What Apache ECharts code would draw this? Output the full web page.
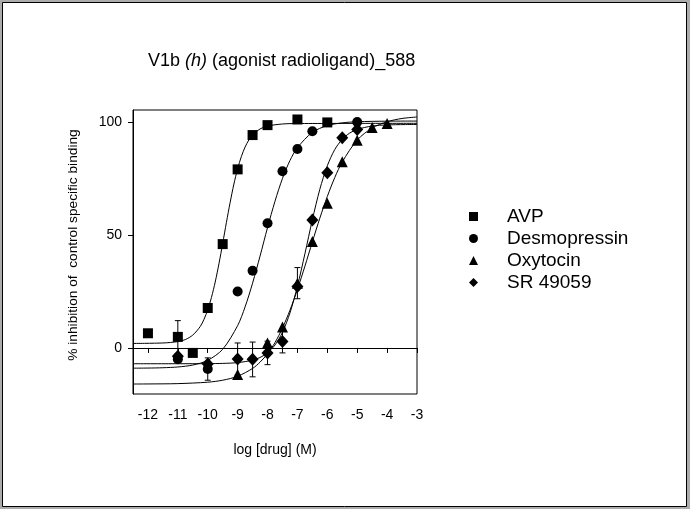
<!DOCTYPE html>
<html>
<head>
<meta charset="utf-8">
<script src="https://cdn.jsdelivr.net/npm/echarts@6/dist/echarts.min.js"></script>
<style>
  html, body { margin: 0; padding: 0; background: #fff; }
  #chart { width: 690px; height: 509px; }
</style>
</head>
<body>
<div id="chart"></div>
<script>
// tick labels
var xTicks = [-12, -11, -10, -9, -8, -7, -6, -5, -4, -3];
var yTicks = [0, 50, 100];

// measured points [log conc, % inhibition]
var avpPts = [[-12, 6.5], [-11, 4.9], [-10.5, -2.2], [-10, 17.7], [-9.5, 46], [-9, 79.1], [-8.5, 94.3], [-8, 98.7], [-7, 101.2], [-6, 99.9]];
var desmoPts = [[-11, -5], [-10, -9.3], [-9, 25], [-8.5, 34.2], [-8, 55.2], [-7.5, 78.3], [-7, 88.1], [-6.5, 96], [-5, 100.1]];
var oxyPts = [[-9, -11.8], [-8, 2.2], [-7.5, 9.3], [-7, 28.7], [-6.5, 47.1], [-6, 64.1], [-5.5, 82.5], [-5, 92], [-4.5, 97.7], [-4, 99.4]];
var srPts = [[-11, -3.7], [-10, -7.1], [-9, -4.9], [-8.5, -5], [-8, -2.2], [-7.5, 2.9], [-7, 27.2], [-6.5, 56.7], [-6, 77.6], [-5.5, 93.1], [-5, 96.8]];

// error bars [x, low, high]
var errBars = [[-11, -2.5, 12.1], [-10, -14.3, -4.4], [-9, -12, 2.2], [-8.5, -12.8, 2.6], [-8, -7.4, 3], [-7.5, -2.2, 8], [-7, 21.8, 35.6]];

// fitted curves
var avpFit = [[-12.5, 2.0], [-11.5, 2.2], [-11, 2.8], [-10.75, 3.7], [-10.5, 5.7], [-10.25, 9.5], [-10.125, 12.7], [-10, 16.9], [-9.875, 22.4], [-9.75, 29.2], [-9.625, 37.3], [-9.5, 46.3], [-9.375, 55.6], [-9.25, 64.5], [-9.125, 72.6], [-9, 79.4], [-8.875, 84.8], [-8.75, 89.0], [-8.625, 92.1], [-8.5, 94.3], [-8.25, 97.0], [-8, 98.3], [-7.5, 99.2], [-7, 99.4], [-3, 99.5]];
var desmoFit = [[-12.5, -8.96], [-12, -8.91], [-11.5, -8.77], [-11, -8.43], [-10.5, -7.58], [-10, -5.49], [-9.5, -0.59], [-9, 9.9], [-8.75, 18.2], [-8.5, 28.7], [-8.25, 40.7], [-8, 53.3], [-7.75, 65.0], [-7.5, 75.1], [-7.25, 83.0], [-7, 88.7], [-6.5, 95.5], [-6, 98.5], [-5.5, 99.7], [-5, 100.2], [-4, 100.45], [-3, 100.5]];
var oxyFit = [[-12.5, -15.98], [-12, -15.95], [-11, -15.8], [-10, -15.17], [-9.5, -14.3], [-9, -12.55], [-8.5, -9.08], [-8.25, -6.3], [-8, -2.55], [-7.75, 2.4], [-7.5, 8.8], [-7.25, 16.7], [-7, 25.9], [-6.75, 36.2], [-6.5, 47.0], [-6.25, 57.5], [-6, 67.1], [-5.75, 75.5], [-5.5, 82.4], [-5, 92.1], [-4.5, 97.4], [-4, 100.2], [-3.5, 101.65], [-3, 102.3]];
var srFit = [[-12.5, -7], [-11, -6.99], [-10, -6.95], [-9.5, -6.84], [-9, -6.5], [-8.5, -5.42], [-8.25, -4.22], [-8, -2.16], [-7.75, 1.31], [-7.5, 6.93], [-7.25, 15.5], [-7, 27.3], [-6.75, 41.7], [-6.5, 56.8], [-6.25, 70.3], [-6, 80.7], [-5.75, 87.9], [-5.5, 92.4], [-5.25, 95.2], [-5, 96.8], [-4.5, 98.3], [-4, 98.8], [-3, 99]];

var names = ["AVP", "Desmopressin", "Oxytocin", "SR 49059"];

var FONT = "'Liberation Sans', Arial, sans-serif";

function fitLine(name, pts) {
    return {
        name: name,
        type: "line",
        data: pts,
        showSymbol: false,
        smooth: 0.3,
        lineStyle: { color: "#000", width: 1 },
        silent: true,
        z: 2
    };
}

function dots(name, pts, symbol, size) {
    return {
        name: name,
        type: "scatter",
        data: pts,
        symbol: symbol,
        symbolSize: size,
        itemStyle: { color: "#000", opacity: 1 },
        z: 4
    };
}

var chart = echarts.init(document.getElementById("chart"));
chart.setOption({
    animation: false,
    backgroundColor: "#acacac",
    graphic: [{
        type: "rect",
        z: -1,
        shape: { x: 2.5, y: 2.5, width: 684, height: 504 },
        style: { fill: "#fff", stroke: "#000", lineWidth: 1 }
    }],
    title: {
        left: 148,
        top: 52,
        padding: 0,
        text: "{a|V1b }{i|(h)}{a| (agonist radioligand)_588}",
        textStyle: {
            fontWeight: "normal",
            rich: {
                a: { fontSize: 18, fontFamily: FONT, color: "#000", fontWeight: "normal" },
                i: { fontSize: 18, fontFamily: FONT, color: "#000", fontWeight: "normal", fontStyle: "italic" }
            }
        }
    },
    legend: {
        orient: "vertical",
        left: 464,
        top: 202,
        itemWidth: 9,
        itemHeight: 9,
        itemGap: 3,
        selectedMode: false,
        data: names,
        itemStyle: { opacity: 1 },
        textStyle: { fontSize: 19, fontFamily: FONT, color: "#000", padding: [0, 0, 0, 24] }
    },
    grid: {
        left: 133,
        top: 110,
        width: 284,
        height: 284,
        show: true,
        borderColor: "#000",
        borderWidth: 1,
        backgroundColor: "transparent"
    },
    xAxis: {
        type: "value",
        min: -12.5,
        max: -3,
        name: "log [drug] (M)",
        nameLocation: "middle",
        nameGap: 49,
        nameTextStyle: { fontSize: 14, fontFamily: FONT, color: "#000" },
        axisLine: { lineStyle: { color: "#000", width: 1 } },
        axisTick: { customValues: xTicks, length: 5, lineStyle: { color: "#000" } },
        axisLabel: { customValues: xTicks, fontSize: 14, fontFamily: FONT, color: "#000", margin: 14 },
        splitLine: { show: false }
    },
    yAxis: {
        type: "value",
        min: -20.4,
        max: 105.4,
        name: "% inhibition of  control specific binding",
        nameLocation: "middle",
        nameGap: 53,
        nameTextStyle: { fontSize: 13.7, fontFamily: FONT, color: "#000", padding: [0, 0, 0, 14] },
        axisLine: { lineStyle: { color: "#000", width: 1 } },
        axisTick: { customValues: yTicks, length: 5, lineStyle: { color: "#000" } },
        axisLabel: { customValues: yTicks, fontSize: 14, fontFamily: FONT, color: "#000", margin: 11 },
        splitLine: { show: false }
    },
    series: [
        fitLine("AVP fit", avpFit),
        fitLine("Desmopressin fit", desmoFit),
        fitLine("Oxytocin fit", oxyFit),
        fitLine("SR 49059 fit", srFit),
        {
            name: "errors",
            type: "custom",
            data: errBars,
            encode: { x: 0, y: [1, 2] },
            z: 3,
            silent: true,
            renderItem: function (params, api) {
                var x = api.value(0);
                var lo = api.coord([x, api.value(1)]);
                var hi = api.coord([x, api.value(2)]);
                var cap = 3;
                var st = { stroke: "#000", lineWidth: 1 };
                return {
                    type: "group",
                    children: [
                        { type: "line", shape: { x1: lo[0], y1: lo[1], x2: hi[0], y2: hi[1] }, style: st },
                        { type: "line", shape: { x1: lo[0] - cap, y1: lo[1], x2: lo[0] + cap, y2: lo[1] }, style: st },
                        { type: "line", shape: { x1: hi[0] - cap, y1: hi[1], x2: hi[0] + cap, y2: hi[1] }, style: st }
                    ]
                };
            }
        },
        dots("AVP", avpPts, "rect", 10),
        dots("Desmopressin", desmoPts, "circle", 10),
        dots("Oxytocin", oxyPts, "triangle", 11),
        dots("SR 49059", srPts, "diamond", [12, 13])
    ]
});
</script>
</body>
</html>
